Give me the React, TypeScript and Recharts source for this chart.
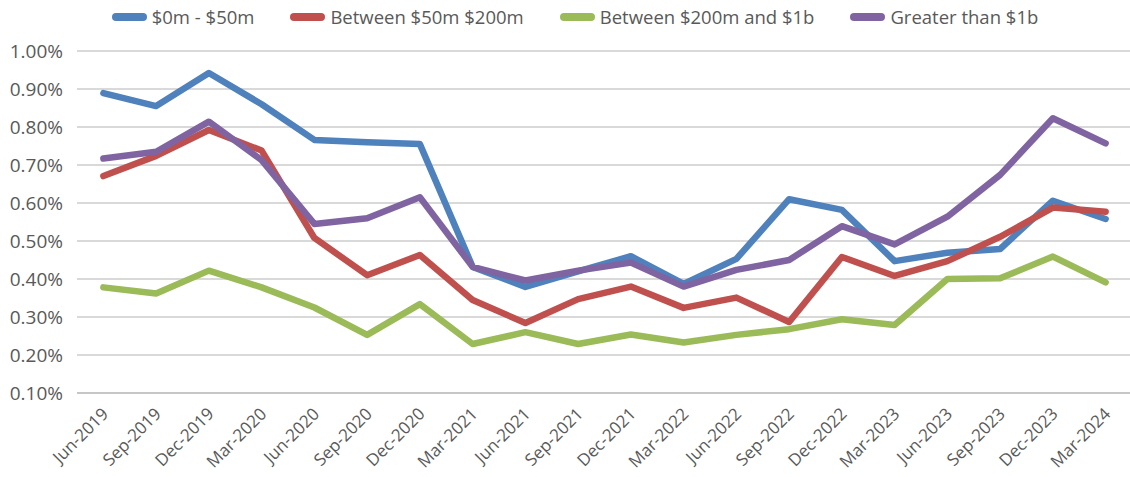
import { LineChart, Line, XAxis, YAxis, CartesianGrid } from "recharts";

const quarters = [
    "Jun-2019", "Sep-2019", "Dec-2019", "Mar-2020", "Jun-2020", "Sep-2020", "Dec-2020",
    "Mar-2021", "Jun-2021", "Sep-2021", "Dec-2021", "Mar-2022", "Jun-2022", "Sep-2022",
    "Dec-2022", "Mar-2023", "Jun-2023", "Sep-2023", "Dec-2023", "Mar-2024",
];

// values in %
const small = [0.889, 0.855, 0.942, 0.86, 0.766, 0.76, 0.755, 0.432, 0.379, 0.42, 0.46, 0.387, 0.453, 0.61, 0.582, 0.447, 0.469, 0.479, 0.606, 0.558];
const mid = [0.671, 0.724, 0.792, 0.738, 0.508, 0.41, 0.463, 0.345, 0.284, 0.347, 0.38, 0.324, 0.351, 0.287, 0.458, 0.408, 0.447, 0.511, 0.588, 0.577];
const large = [0.378, 0.362, 0.422, 0.378, 0.325, 0.253, 0.334, 0.229, 0.26, 0.229, 0.254, 0.233, 0.253, 0.268, 0.294, 0.279, 0.4, 0.402, 0.459, 0.391];
const huge = [0.717, 0.735, 0.814, 0.713, 0.545, 0.56, 0.615, 0.432, 0.396, 0.422, 0.443, 0.38, 0.424, 0.45, 0.539, 0.491, 0.564, 0.674, 0.823, 0.757];

const yTicks = [0.1, 0.2, 0.3, 0.4, 0.5, 0.6, 0.7, 0.8, 0.9, 1.0];

const series = [
    { key: "small", name: "$0m - $50m", color: "#4F81BD" },
    { key: "mid", name: "Between $50m $200m", color: "#C0504D" },
    { key: "large", name: "Between $200m and $1b", color: "#9BBB59" },
    { key: "huge", name: "Greater than $1b", color: "#8064A2" },
];

const data = quarters.map((q, i) => ({
    idx: i,
    quarter: q,
    small: small[i],
    mid: mid[i],
    large: large[i],
    huge: huge[i],
}));

// tick marks sit between categories
const boundaries = [...quarters.map((_, i) => i - 0.5), quarters.length - 0.5];
const centers = quarters.map((_, i) => i);

const FONT = "'Open Sans', sans-serif";
const TEXT = "#595959";

const QuarterTick = (props: any) => {
    const { x, y, payload } = props;
    const tx = x + 6;
    const ty = y + 13;
    return (
        <text
            x={tx}
            y={ty}
            transform={`rotate(-45 ${tx} ${ty})`}
            textAnchor="end"
            fontFamily={FONT}
            fontSize={17}
            fill={TEXT}
        >
            {quarters[payload.value]}
        </text>
    );
};

const App = () => {
    return (
        <div style={{ position: "fixed", left: 0, top: 0, width: 1130, height: 477, background: "#fff" }}>
            <div
                style={{
                    position: "absolute",
                    top: 4,
                    left: 0,
                    width: 1130,
                    display: "flex",
                    justifyContent: "center",
                    gap: 36,
                    fontFamily: FONT,
                    fontSize: 18.5,
                    color: TEXT,
                    paddingLeft: 20,
                    boxSizing: "border-box",
                }}
            >
                {series.map((s) => (
                    <div key={s.key} style={{ display: "flex", alignItems: "center", gap: 5 }}>
                        <span style={{ display: "inline-block", width: 35, height: 8, borderRadius: 4, background: s.color }} />
                        <span>{s.name}</span>
                    </div>
                ))}
            </div>
            <LineChart width={1130} height={477} data={data} margin={{ top: 51, right: -2, bottom: 82, left: 0 }}>
                <CartesianGrid horizontal vertical={false} stroke="#cccccc" strokeWidth={1.5} />
                <XAxis
                    type="number"
                    dataKey="idx"
                    domain={[-0.5, quarters.length - 0.5]}
                    ticks={boundaries}
                    interval={0}
                    tick={false}
                    tickSize={7}
                    height={1}
                    stroke="#bfbfbf"
                    strokeWidth={1.5}
                />
                <XAxis
                    xAxisId="lab"
                    type="number"
                    dataKey="idx"
                    domain={[-0.5, quarters.length - 0.5]}
                    ticks={centers}
                    interval={0}
                    axisLine={false}
                    tickLine={false}
                    tick={<QuarterTick />}
                    height={1}
                />
                <YAxis
                    domain={[0.1, 1.0]}
                    ticks={yTicks}
                    width={77}
                    axisLine={false}
                    tickLine={false}
                    tickMargin={8}
                    tickFormatter={(v: number) => `${v.toFixed(2)}%`}
                    tick={{ fontFamily: FONT, fontSize: 19, fill: TEXT }}
                />
                {series.map((s) => (
                    <Line
                        key={s.key}
                        type="linear"
                        dataKey={s.key}
                        name={s.name}
                        stroke={s.color}
                        strokeWidth={6.5}
                        strokeLinecap="round"
                        strokeLinejoin="round"
                        dot={false}
                        isAnimationActive={false}
                    />
                ))}
            </LineChart>
        </div>
    );
};

export default App;
